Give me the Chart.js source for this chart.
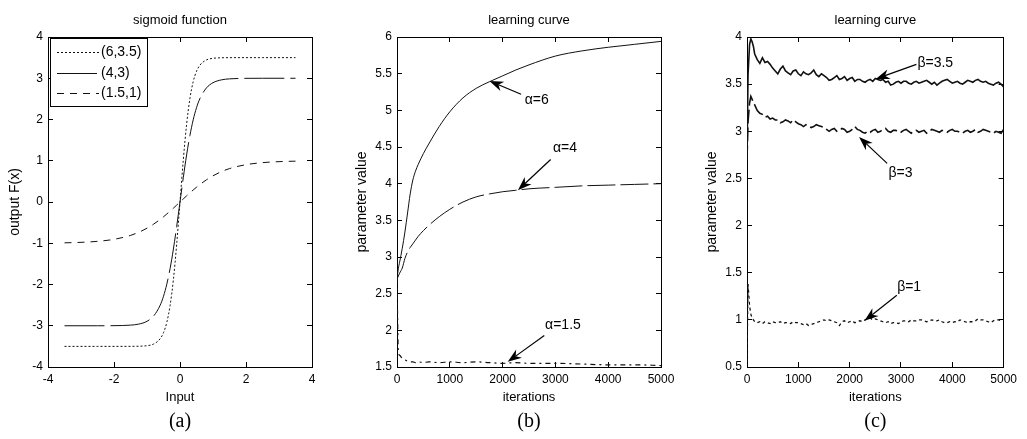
<!DOCTYPE html>
<html>
<head>
<meta charset="utf-8">
<title>sigmoid function / learning curves</title>
<script src="https://cdn.jsdelivr.net/npm/chart.js@4.4.1/dist/chart.umd.min.js"></script>
<style>
  body { margin: 0; background: #fff; }
  .panel { position: absolute; top: 0; height: 439px; }
  #panel-a { left: 0; width: 340px; }
  #panel-b { left: 340px; width: 345px; }
  #panel-c { left: 685px; width: 342px; }
</style>
</head>
<body>
<div class="panel" id="panel-a"><canvas id="chart-a"></canvas></div>
<div class="panel" id="panel-b"><canvas id="chart-b"></canvas></div>
<div class="panel" id="panel-c"><canvas id="chart-c"></canvas></div>

<script>
/** Daten (a): Sigmoid-Funktion */
const sigX = [-3.5, -3, -2.5, -2, -1.5, -1.25, -1, -0.8, -0.6, -0.5, -0.4, -0.3, -0.2, -0.1, 0,
  0.1, 0.2, 0.3, 0.4, 0.5, 0.6, 0.8, 1, 1.25, 1.5, 2, 2.5, 3, 3.5];
const sig35 = [-3.5, -3.5, -3.5, -3.5, -3.499, -3.496, -3.483, -3.443, -3.314, -3.168, -2.918, -2.507, -1.88, -1.02, 0,
  1.02, 1.88, 2.507, 2.918, 3.168, 3.314, 3.443, 3.483, 3.496, 3.499, 3.5, 3.5, 3.5, 3.5];
const sig3 = [-3, -3, -3, -2.998, -2.985, -2.96, -2.892, -2.765, -2.501, -2.285, -1.992, -1.611, -1.14, -0.592, 0,
  0.592, 1.14, 1.611, 1.992, 2.285, 2.501, 2.765, 2.892, 2.96, 2.985, 2.998, 3, 3, 3];
const sig1 = [-0.99, -0.978, -0.954, -0.905, -0.81, -0.734, -0.635, -0.537, -0.422, -0.358, -0.291, -0.221, -0.149, -0.075, 0,
  0.075, 0.149, 0.221, 0.291, 0.358, 0.422, 0.537, 0.635, 0.734, 0.81, 0.905, 0.954, 0.978, 0.99];
const sigLabels = ['(6,3.5)', '(4,3)', '(1.5,1)'];

/** Daten (b): Lernkurve alpha */
const iterB = [0, 25, 50, 100, 150, 200, 250, 300, 350, 400, 500, 600, 800, 1000, 1250, 1500, 1750, 2000, 2250, 2500, 3000, 3500, 4000, 4500, 5000];
const alpha6 = [2.7, 2.84, 2.93, 3.12, 3.34, 3.6, 3.86, 4.05, 4.17, 4.26, 4.41, 4.54, 4.78, 4.98, 5.17, 5.3, 5.39, 5.47, 5.55, 5.62, 5.74, 5.81, 5.86, 5.9, 5.94];
const alpha4 = [2.7, 2.74, 2.78, 2.85, 2.98, 3.07, 3.13, 3.18, 3.23, 3.28, 3.36, 3.43, 3.55, 3.65, 3.75, 3.82, 3.86, 3.89, 3.91, 3.93, 3.95, 3.97, 3.98, 3.99, 4.0];
const alpha15 = [2.7, 1.72, 1.66, 1.62, 1.6, 1.58, 1.57, 1.57, 1.56, 1.57, 1.56, 1.57, 1.56, 1.57, 1.56, 1.57, 1.56, 1.55, 1.56, 1.55, 1.55, 1.54, 1.53, 1.53, 1.52];

/** Daten (c): Lernkurve beta */
const iterC = [0, 20, 50, 75, 100, 125, 150, 200, 250,
  300, 350, 400, 450, 500, 550, 600, 650, 700, 750,
  800, 850, 900, 950, 1000, 1050, 1100, 1150, 1200, 1250,
  1300, 1350, 1400, 1450, 1500, 1550, 1600, 1650, 1700, 1750,
  1800, 1850, 1900, 1950, 2000, 2050, 2100, 2150, 2200, 2250,
  2300, 2350, 2400, 2450, 2500, 2550, 2600, 2650, 2700, 2750,
  2800, 2850, 2900, 2950, 3000, 3050, 3100, 3150, 3200, 3250,
  3300, 3350, 3400, 3450, 3500, 3550, 3600, 3650, 3700, 3750,
  3800, 3850, 3900, 3950, 4000, 4050, 4100, 4150, 4200, 4250,
  4300, 4350, 4400, 4450, 4500, 4550, 4600, 4650, 4700, 4750,
  4800, 4850, 4900, 4950, 5000];
const beta35 = [2.7, 3.6, 3.92, 3.98, 3.95, 3.9, 3.82, 3.76, 3.72,
  3.78, 3.73, 3.74, 3.71, 3.67, 3.64, 3.61, 3.66, 3.69, 3.64,
  3.62, 3.6, 3.64, 3.65, 3.61, 3.59, 3.63, 3.61, 3.6, 3.62,
  3.65, 3.6, 3.58, 3.61, 3.59, 3.57, 3.54, 3.55, 3.57, 3.59,
  3.55, 3.56, 3.58, 3.54, 3.56, 3.57, 3.53, 3.55, 3.55, 3.53,
  3.52, 3.54, 3.55, 3.53, 3.56, 3.55, 3.54, 3.55, 3.52, 3.53,
  3.49, 3.5, 3.52, 3.53, 3.51, 3.53, 3.53, 3.51, 3.5, 3.52,
  3.53, 3.51, 3.52, 3.53, 3.54, 3.52, 3.5, 3.52, 3.49, 3.51,
  3.53, 3.54, 3.55, 3.53, 3.51, 3.52, 3.53, 3.51, 3.5, 3.52,
  3.54, 3.53, 3.52, 3.54, 3.55, 3.53, 3.52, 3.53, 3.51, 3.5,
  3.49, 3.51, 3.52, 3.5, 3.47];
const beta3 = [2.7, 3.1, 3.3, 3.37, 3.34, 3.3, 3.28, 3.22, 3.19,
  3.18, 3.15, 3.16, 3.13, 3.14, 3.12, 3.12, 3.09, 3.1, 3.12,
  3.11, 3.09, 3.12, 3.1, 3.08, 3.07, 3.05, 3.07, 3.06, 3.04,
  3.05, 3.07, 3.06, 3.05, 3.04, 3.02, 3.0, 3.02, 3.03, 3.0,
  3.01, 3.03, 3.02, 2.99, 3.0, 3.02, 3.05, 3.02, 3.01, 2.99,
  2.98, 3.0, 2.99, 3.01, 3.02, 2.99, 3.0, 3.02, 3.03, 3.0,
  2.99, 3.01, 3.01, 2.99, 2.99, 3.01, 3.02, 3.0, 2.98, 3.0,
  3.01, 2.99, 3.0, 3.01, 2.98, 3.0, 3.02, 3.01, 3.0, 2.99,
  3.01, 3.0, 2.99, 3.01, 3.02, 3.0, 3.0, 2.99, 2.98, 3.0,
  3.01, 2.99, 3.0, 3.02, 2.99, 3.0, 3.02, 3.01, 3.0, 2.99,
  2.98, 3.0, 2.99, 2.98, 3.02];
const beta1 = [0.55, 1.38, 1.15, 1.06, 1.02, 1.0, 0.98, 0.97, 0.98,
  0.96, 0.98, 0.97, 0.96, 0.98, 0.97, 0.97, 0.98, 0.96, 0.97,
  0.97, 0.96, 0.98, 0.97, 0.97, 0.96, 0.95, 0.96, 0.94, 0.95,
  0.96, 0.97, 0.98, 0.99, 1.0, 0.99, 1.0, 0.99, 0.98, 0.97,
  0.94, 0.98, 0.99, 0.97, 0.98, 0.99, 0.97, 0.98, 0.99, 0.98,
  1.0, 1.01, 1.02, 1.0, 1.01, 1.0, 0.99, 0.98, 0.97, 0.98,
  0.96, 0.97, 0.97, 0.96, 0.98, 0.99, 0.99, 0.98, 1.0, 0.99,
  0.99, 1.0, 1.0, 0.99, 0.98, 0.99, 1.0, 0.99, 0.99, 1.0,
  0.98, 0.97, 0.97, 0.98, 0.97, 0.98, 0.98, 1.0, 0.99, 0.98,
  0.97, 0.98, 0.98, 0.99, 1.01, 1.0, 1.0, 0.99, 0.98, 0.97,
  0.99, 1.0, 1.0, 0.99, 1.0];

/** Beschriftungen mit Pfeil (Datenkoordinaten: Spitze, Ende, Text) */
const notesB = [
  { text: 'α=6', tip: [1750, 5.4], tail: [2350, 5.22], at: [2420, 5.14] },
  { text: 'α=4', tip: [2290, 3.91], tail: [2910, 4.33], at: [2955, 4.49] },
  { text: 'α=1.5', tip: [2097, 1.57], tail: [2790, 1.93], at: [2805, 2.07] }
];
const notesC = [
  { text: 'β=3.5', tip: [2509, 3.555], tail: [3300, 3.71], at: [3320, 3.725] },
  { text: 'β=3', tip: [2183, 2.94], tail: [2730, 2.66], at: [2755, 2.56] },
  { text: 'β=1', tip: [2289, 0.99], tail: [2919, 1.26], at: [2925, 1.35] }
];

const FONT = "'Liberation Sans', Arial, Helvetica, sans-serif";
const SERIF = "'Liberation Serif', 'Times New Roman', serif";
const INK = '#111';

function pts(xs, ys) {
  return xs.map(function (x, i) { return { x: x, y: ys[i] }; });
}

function line(label, xs, ys, dash, width, smooth) {
  return {
    label: label,
    data: pts(xs, ys),
    showLine: true,
    borderColor: INK,
    backgroundColor: INK,
    borderWidth: width,
    borderDash: dash,
    pointRadius: 0,
    tension: 0,
    cubicInterpolationMode: smooth ? 'monotone' : 'default'
  };
}

/** Achse im Matlab-Stil: Rahmen, Ticks nach innen */
function axis(pos, min, max, step, size, title, titleSize, titlePad) {
  const horiz = pos === 'top' || pos === 'bottom';
  const main = pos === 'bottom' || pos === 'left';
  return {
    type: 'linear',
    position: pos,
    min: min,
    max: max,
    ticks: {
      display: main,
      stepSize: step,
      autoSkip: false,
      maxRotation: 0,
      padding: 10,
      color: '#000',
      font: { family: FONT, size: 12 },
      callback: function (v) { return String(v); }
    },
    grid: { drawOnChartArea: false, drawTicks: true, tickLength: -5, color: '#000' },
    border: { display: true, color: '#000', width: 1 },
    title: title ? { display: true, text: title, color: '#000', font: { family: FONT, size: titleSize }, padding: titlePad } : { display: false },
    afterFit: function (s) {
      if (horiz) s.height = size; else s.width = size;
    }
  };
}

/** Pfeile + Text */
function arrowNotes(notes) {
  return {
    id: 'notes',
    afterDatasetsDraw: function (chart) {
      const ctx = chart.ctx, sx = chart.scales.x, sy = chart.scales.y;
      ctx.save();
      ctx.strokeStyle = '#000';
      ctx.fillStyle = '#000';
      ctx.lineWidth = 1.2;
      ctx.font = '14px ' + FONT;
      ctx.textBaseline = 'middle';
      ctx.textAlign = 'left';
      notes.forEach(function (n) {
        const tx = sx.getPixelForValue(n.tip[0]), ty = sy.getPixelForValue(n.tip[1]);
        const bx = sx.getPixelForValue(n.tail[0]), by = sy.getPixelForValue(n.tail[1]);
        const a = Math.atan2(ty - by, tx - bx), c = Math.cos(a), s = Math.sin(a);
        const len = 14, half = 5;
        ctx.beginPath();
        ctx.moveTo(bx, by);
        ctx.lineTo(tx - c * len * 0.7, ty - s * len * 0.7);
        ctx.stroke();
        ctx.beginPath();
        ctx.moveTo(tx, ty);
        ctx.lineTo(tx - c * len - s * half, ty - s * len + c * half);
        ctx.lineTo(tx - c * len * 0.7, ty - s * len * 0.7);
        ctx.lineTo(tx - c * len + s * half, ty - s * len - c * half);
        ctx.closePath();
        ctx.fill();
        ctx.fillText(n.text, sx.getPixelForValue(n.at[0]), sy.getPixelForValue(n.at[1]));
      });
      ctx.restore();
    }
  };
}

/** Legende im Diagramm oben links, mit Rahmen */
const boxLegend = {
  id: 'boxLegend',
  afterDatasetsDraw: function (chart) {
    const ctx = chart.ctx, ca = chart.chartArea;
    const x0 = ca.left + 2, y0 = ca.top + 1;
    ctx.save();
    ctx.fillStyle = '#fff';
    ctx.fillRect(x0, y0, 97, 68);
    ctx.strokeStyle = '#000';
    ctx.lineWidth = 1;
    ctx.setLineDash([]);
    ctx.strokeRect(x0 + 0.5, y0 + 0.5, 97, 68);
    ctx.font = '14px ' + FONT;
    ctx.textBaseline = 'middle';
    ctx.fillStyle = '#000';
    chart.data.datasets.forEach(function (ds, i) {
      const y = Math.round(y0 + 14 + i * 20.7) + 0.5;
      ctx.strokeStyle = ds.borderColor;
      ctx.lineWidth = ds.borderWidth;
      ctx.setLineDash(ds.borderDash || []);
      ctx.beginPath();
      ctx.moveTo(x0 + 7, y);
      ctx.lineTo(x0 + 49, y);
      ctx.stroke();
      ctx.fillText(ds.label, x0 + 51, y);
    });
    ctx.restore();
  }
};

function panel(id, o) {
  return new Chart(document.getElementById(id), {
    type: 'scatter',
    data: { datasets: o.datasets },
    options: {
      responsive: true,
      maintainAspectRatio: false,
      animation: false,
      layout: { padding: { top: 0, left: 0, bottom: 0, right: o.right } },
      scales: {
        x: axis('bottom', o.xMin, o.xMax, o.xStep, 43, o.xTitle, 13, { top: 0, bottom: 5 }),
        x2: axis('top', o.xMin, o.xMax, o.xStep, 0),
        y: axis('left', o.yMin, o.yMax, o.yStep, o.left, o.yTitle, 14, { top: o.yTitlePad, bottom: 0 }),
        y2: axis('right', o.yMin, o.yMax, o.yStep, 0)
      },
      plugins: {
        legend: { display: false },
        tooltip: { enabled: false },
        title: {
          display: true, text: o.title, color: '#000', fullSize: false,
          font: { family: FONT, size: 13, weight: 'normal' },
          padding: { top: 13, bottom: 8.4 }
        },
        subtitle: {
          display: true, text: o.tag, position: 'bottom', color: '#000', fullSize: false,
          font: { family: SERIF, size: 20, weight: 'normal' },
          padding: { top: 0, bottom: 5 }
        }
      }
    },
    plugins: o.plugins
  });
}

/** (a) */
panel('chart-a', {
  title: 'sigmoid function', tag: '(a)',
  xTitle: 'Input', yTitle: 'output F(x)',
  xMin: -4, xMax: 4, xStep: 2, yMin: -4, yMax: 4, yStep: 1,
  left: 48, right: 28, yTitlePad: 6.6,
  datasets: [
    line(sigLabels[0], sigX, sig35, [2, 2], 1, true),
    line(sigLabels[1], sigX, sig3, [40, 6], 1, true),
    line(sigLabels[2], sigX, sig1, [7, 6], 1, true)
  ],
  plugins: [boxLegend]
});

/** (b) */
panel('chart-b', {
  title: 'learning curve', tag: '(b)',
  xTitle: 'iterations', yTitle: 'parameter value',
  xMin: 0, xMax: 5000, xStep: 1000, yMin: 1.5, yMax: 6, yStep: 0.5,
  left: 57, right: 24, yTitlePad: 13.3,
  datasets: [
    line('α=6', iterB, alpha6, [], 1, true),
    line('α=4', iterB, alpha4, [28, 5], 1, true),
    line('α=1.5', iterB, alpha15, [5, 4, 2, 4], 1.2, true)
  ],
  plugins: [arrowNotes(notesB)]
});

/** (c) */
panel('chart-c', {
  title: 'learning curve', tag: '(c)',
  xTitle: 'iterations', yTitle: 'parameter value',
  xMin: 0, xMax: 5000, xStep: 1000, yMin: 0.5, yMax: 4, yStep: 0.5,
  left: 62, right: 15, yTitlePad: 18.3,
  datasets: [
    line('β=3.5', iterC, beta35, [], 1.6, false),
    line('β=3', iterC, beta3, [14, 4], 1.6, false),
    line('β=1', iterC, beta1, [3, 3], 1.3, false)
  ],
  plugins: [arrowNotes(notesC)]
});
</script>
</body>
</html>
